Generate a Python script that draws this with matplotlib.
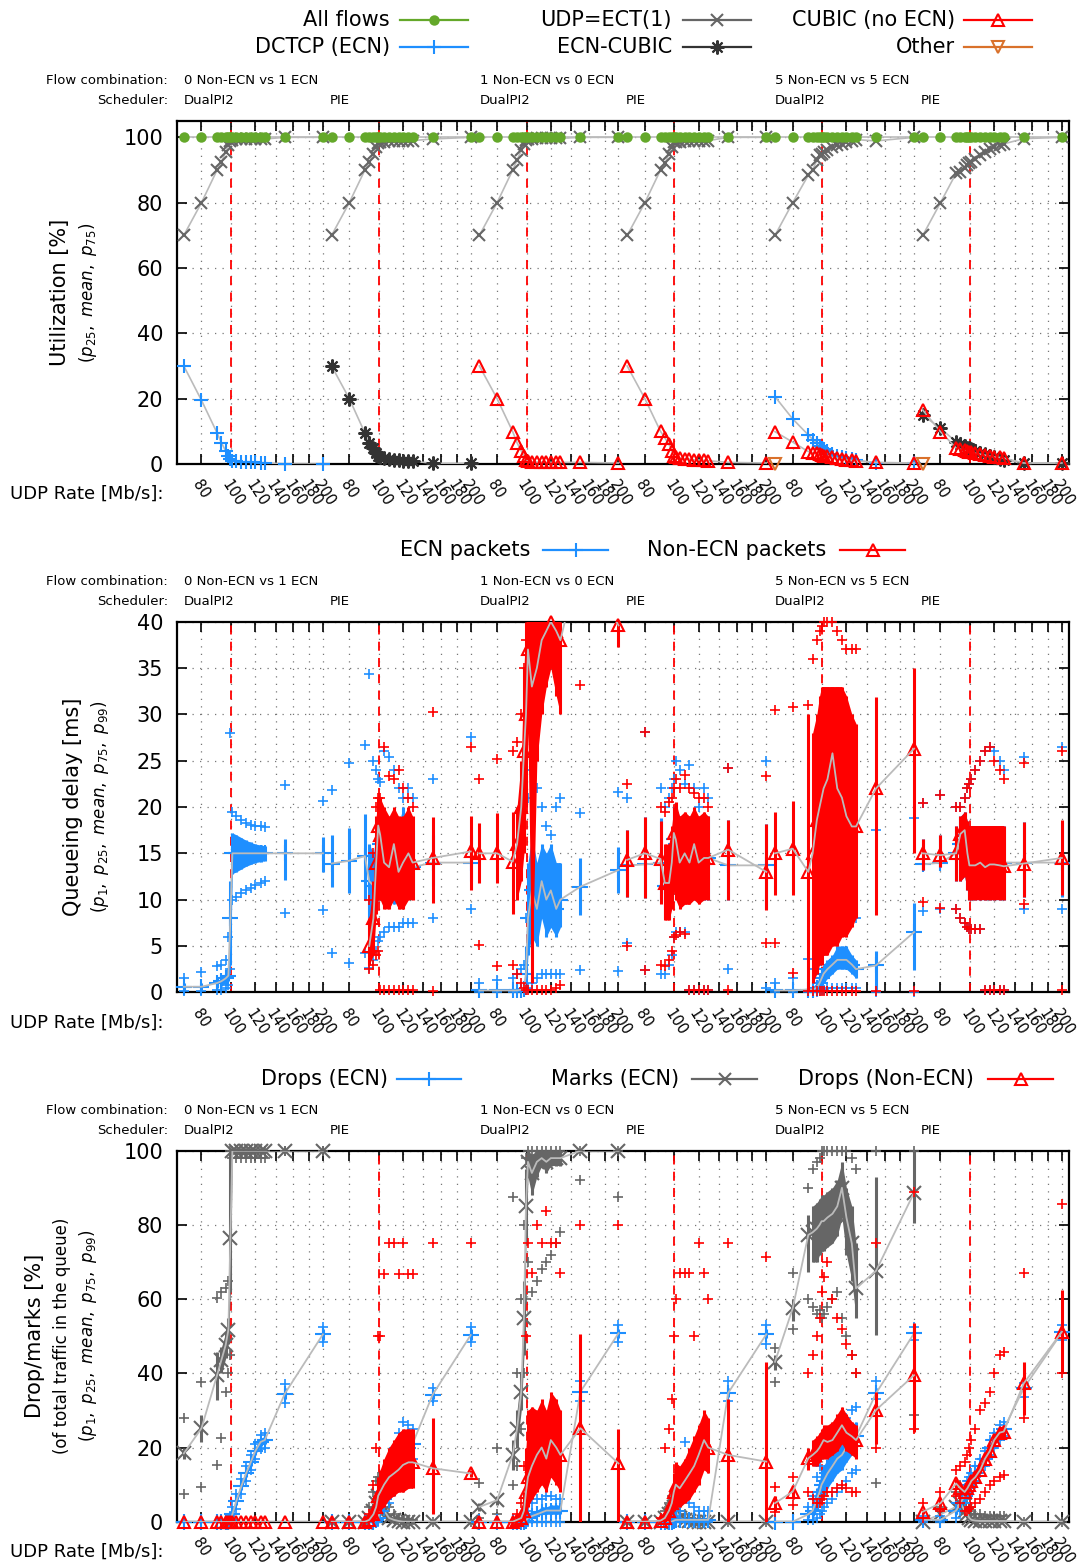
import numpy as np
import matplotlib
matplotlib.use("Agg")
import matplotlib.pyplot as plt
from matplotlib.lines import Line2D
from matplotlib.transforms import blended_transform_factory

plt.rcParams["font.family"] = ["DejaVu Sans"]

# ---------------------------------------------------------------- data
# UDP rates (Mb/s) sampled in every group
RATES = [70, 80, 90, 93, 96, 98, 99.5, 101, 104, 108, 112, 116, 120, 125, 129, 150, 200]
FLOW_COMBOS = ["0 Non-ECN vs 1 ECN", "1 Non-ECN vs 0 ECN", "5 Non-ECN vs 5 ECN"]
SCHEDULERS = ["DualPI2", "PIE"]
XTICKS = [80, 100, 120, 140, 160, 180, 200]
UTIL_YTICKS = [0, 20, 40, 60, 80, 100]
DELAY_YTICKS = [0, 5, 10, 15, 20, 25, 30, 35, 40]
DROP_YTICKS = [0, 20, 40, 60, 80, 100]

# utilization [%] (one row per group: 0v1 DualPI2, 0v1 PIE, 1v0 DualPI2, 1v0 PIE, 5v5 DualPI2, 5v5 PIE)
util_all = [100, 100, 100, 100, 100, 100, 100, 100, 100, 100, 100, 100, 100, 100, 100, 100, 100]
util_udp = [
    [70, 80, 90, 92.5, 95.5, 97.5, 99, 99.3, 99.4, 99.5, 99.5, 99.5, 99.5, 99.5, 99.5, 100, 100],
    [70, 80, 90, 92.5, 95, 97, 98.3, 98.5, 98.7, 98.8, 98.9, 99, 99, 99, 99, 99.5, 100],
    [70, 80, 90, 93, 96, 98, 99.3, 99.5, 99.6, 99.7, 99.7, 99.7, 99.7, 99.7, 99.7, 100, 100],
    [70, 80, 90, 92, 95, 97, 98.5, 98.6, 98.7, 98.8, 98.9, 99, 99, 99, 99, 100, 100],
    [70, 80, 88.4, 90, 93, 94.5, 95, 95.5, 96, 97, 97.7, 98, 98.5, 99, 99.3, 98.9, 100],
    [70, 80, 89, 89.5, 90.5, 91.5, 92, 92.5, 93.5, 94.5, 95.5, 96.5, 97, 97.5, 98, 99.6, 100],
]
util_dctcp = [
    [30, 19.5, 9.5, 6.5, 4, 2.5, 1.5, 1, 0.8, 0.7, 0.6, 0.5, 0.5, 0.4, 0.4, 0, 0],
    None, None, None,
    [20.6, 13.8, 8.9, 7.5, 6.5, 5.5, 5, 4.5, 4, 3, 2.5, 2, 1.8, 1.5, 1.2, 0.3, 0.3],
    None,
]
util_ecn_cubic = [
    None,
    [30, 20, 9.5, 6.5, 5, 3.5, 2.5, 2, 1.8, 1.5, 1.3, 1.2, 1, 1, 0.9, 0.2, 0.2],
    None, None, None,
    [15, 10.9, 6.8, 6, 5.5, 5, 4.8, 4.5, 4, 3.5, 3, 2.5, 2, 1.5, 1.2, 0.3, 0.3],
]
util_cubic = [
    None, None,
    [30, 20, 9.9, 6.5, 4, 2.5, 1.2, 0.8, 0.7, 0.6, 0.6, 0.5, 0.5, 0.5, 0.5, 0.5, 0.3],
    [30, 20, 10, 8, 6, 4, 2.5, 2, 1.8, 1.6, 1.5, 1.3, 1.2, 1.1, 1, 0.5, 0.3],
    [9.9, 6.7, 3.8, 3.5, 3.3, 3, 2.8, 2.6, 2.3, 2, 1.8, 1.5, 1.3, 1.1, 1, 0.5, 0.3],
    [16.5, 9.9, 4.9, 4.5, 4.2, 4, 3.8, 3.6, 3.3, 3, 2.7, 2.4, 2.2, 2, 1.8, 0.3, 0.3],
]
util_other = [
    None, None, None, None,
    [0, None, None, None, None, None, None, None, None, None, None, None, None, None, None, None, None],
    [0, None, None, None, None, None, None, None, None, None, None, None, None, None, None, None, None],
]

# queueing delay [ms]
delay_ecn_mean = [
    [0.6, 0.6, 1.0, 1.2, 1.5, 1.8, 8, 15, 15, 15, 15, 15, 15, 15, 15, 15, 15],
    [13.9, 14.2, 14.7, 12, 11.5, 12.5, 14, 16, 15, 13.5, 12.5, 13.5, 17, 14, 13.5, 14, 14],
    [0.2, 0.2, 0.2, 0.2, 0.3, 0.4, 2, 8, 11, 9, 12, 10, 11, 9, 10, 11.4, 13.2],
    [13.7, 13.8, 14, 11.5, 11.5, 13.8, 16.5, 16, 14, 14.5, 14, 15.5, 14, 14.5, 14.5, 13.7, 13.7],
    [0.2, 0.2, 0.3, 0.3, 0.5, 1, 1.5, 2, 2.5, 3, 3.5, 3.5, 3.5, 3, 2.5, 2.9, 6.5],
    [13.8, 14, 15, 16, 17, 15, 14, 14, 14, 14, 17, 14, 14, 14, 14, 14, 14],
]
delay_ecn_p25 = [
    [0.3, 0.3, 0.5, 0.7, 1, 1.2, 3, 12.8, 13, 13.3, 13.6, 13.8, 14, 14.1, 14.2, 12.1, 13],
    [11.4, 10.7, 10, 8, 8, 9, 10, 11, 11, 10, 9.5, 10, 12, 11, 11, 11.5, 12],
    [0.1, 0.1, 0.1, 0.1, 0.1, 0.2, 1, 4, 6, 5, 8, 6, 7, 6, 7, 8.3, 10.7],
    [10.3, 10.2, 10, 8, 8, 10, 12, 11, 10, 10, 10, 10, 10, 10, 10, 10, 9],
    [0.1, 0.1, 0.1, 0.1, 0.2, 0.5, 0.8, 1, 1.5, 2, 2.5, 2.5, 2.5, 2, 1.5, 0.3, 2.4],
    [13.2, 13.5, 12, 12, 12.5, 11, 10, 10, 10, 10, 10, 10, 10, 10, 10, 10.3, 10.3],
]
delay_ecn_p75 = [
    [1, 1, 1.5, 1.8, 2, 2.5, 12, 17.2, 17, 16.7, 16.4, 16.2, 16, 15.9, 15.8, 16.6, 16.8],
    [17, 17.7, 19.2, 16, 15, 17, 19, 20, 19, 18, 17, 18, 20, 18, 17.5, 17, 17],
    [0.3, 0.3, 0.3, 0.3, 0.5, 0.6, 5, 14, 17, 14, 16, 15, 16, 14, 14, 14.5, 15.7],
    [17.5, 18.9, 18.8, 15, 15, 17, 20, 20, 19, 19, 19, 19, 19, 19, 19, 18.6, 18.2],
    [0.3, 0.3, 0.5, 0.6, 1, 1.8, 2.5, 3, 3.5, 4, 5, 5, 5, 4, 3.5, 4.5, 9.6],
    [16.6, 17, 18, 19, 19.5, 18.5, 18, 18, 18, 18, 18, 18, 18, 18, 18, 18.4, 18.4],
]
delay_ecn_p1 = [
    [0.1, 0.1, 0.2, 0.3, 0.5, 0.8, 2.5, 10, 10.3, 10.7, 11, 11.3, 11.6, 11.8, 12, 8.6, 8.9],
    [4.2, 3.2, 4.2, 2.6, 3.5, 4.5, 5.5, 6, 6.5, 7, 7, 7, 7.5, 7.5, 7.5, 8, 9],
    [0, 0, 0, 0, 0.1, 0.1, 0.2, 0.5, 1, 1.5, 2, 2, 2, 2, 2, 2.4, 2.3],
    [5.3, 2.4, 2, 2, 3, 4, 6, 6.5, 6.5, 6.5, 0.3, 0.3, 0.3, 0.3, 0.3, 2.5, 0.5],
    [0, 0, 0, 0, 0, 0.1, 0.2, 0.3, 0.5, 0.5, 0.5, 0.5, 0.5, 0.5, 0.5, 0, 0],
    [8.8, 9, 9, 8, 7.5, 7, 6.8, 6.8, 6.8, 6.8, 0.3, 0.3, 0.3, 0.3, 0.3, 9, 9],
]
delay_ecn_p99 = [
    [1.5, 2.2, 2.8, 3, 3.5, 6, 28, 19.5, 19, 18.6, 18.3, 18.1, 18, 17.9, 17.8, 22.4, 20.6],
    [21.8, 24.7, 26.7, 34.4, 25, 24, 23, 22.7, 26, 25.4, 24, 22, 21, 22, 21, 23, 27.6],
    [1, 1.3, 1.5, 2, 2.5, 3, 8, 21, 24, 22, 20, 18, 17, 20, 21, 19.3, 21.6],
    [21, 28.1, 22, 20, 21, 22, 23, 25, 24, 22.5, 24.5, 22, 20, 22, 21, 24.2, 25],
    [1, 1.5, 3.6, 2.5, 3, 4, 5, 16, 14, 10, 12, 12, 9, 9, 8, 17.5, 18.8],
    [20.4, 21.3, 20, 20, 21, 22, 22.5, 23, 24, 25, 26, 26.5, 26, 25, 24, 25.4, 26.5],
]
delay_nonecn_mean = [
    None,
    [None, None, None, 5, 8, 14, 18, 17, 14, 13.5, 16, 13, 14, 15, 14, 14.5, 15.2],
    [15, 15, 14.1, 16, 20, 26, 30, 37, 33, 35, 38, 39, 40, 39, 38, 47, 39.6],
    [14.3, 15, 14.4, 11.8, 11.8, 14, 17.2, 16.5, 14, 15, 14, 16, 14, 14.5, 14.5, 15.4, 13],
    [15, 15.5, 13, 15, 18.6, 20, 21, 22, 23, 25.8, 22, 21, 19, 17.9, 17.9, 22, 26.3],
    [15, 14.8, 15, 17.1, 17.5, 15, 13.7, 13.7, 13.7, 14, 13.5, 13.8, 13.8, 13.7, 13.6, 13.9, 14.5],
]
delay_nonecn_p25 = [
    None,
    [None, None, None, 3, 4, 8.5, 10, 10, 9, 9, 10, 9, 9, 10, 10, 9.6, 11],
    [11.8, 11.8, 8.5, 10, 12, 15, 20, 28, 1, 25, 30, 33, 35, 32, 30, 44, 37.3],
    [10.3, 10.2, 9.5, 7.8, 7.8, 9, 11, 10, 9, 9.5, 9.5, 10, 9.5, 10, 10, 10, 8.9],
    [10.5, 10.5, 0.2, 1, 2, 3, 3, 4, 4, 5, 5, 6, 6, 7, 8, 8.3, 15],
    [13.2, 13.5, 12, 12, 12.5, 11, 10, 10, 10, 10, 10, 10, 10, 10, 10, 10.3, 10.5],
]
delay_nonecn_p75 = [
    None,
    [None, None, None, 8, 12, 19, 21, 21, 20, 19, 20, 19, 19, 20, 19, 18.9, 19],
    [18.3, 19.4, 19.5, 20, 25, 35, 40, 42, 42, 42, 42, 42, 42, 42, 40, 50, 42],
    [17.5, 18.9, 18.5, 16, 16, 18, 20, 20.5, 19, 19.5, 19, 20, 19, 19.5, 19, 18.6, 18.2],
    [19.5, 20.7, 30, 28, 30, 32, 33, 33, 33, 33, 33, 33, 32, 30, 29, 31.9, 35],
    [16.6, 17, 18, 19, 19.5, 18.5, 18, 18, 18, 18, 18, 18, 18, 18, 18, 18.4, 18.6],
]
delay_nonecn_p1 = [
    None,
    [None, None, None, 2.5, 3, 4, 4.5, 0.3, 0.3, 0.3, 0.3, 0.3, 0.3, 0.3, 0.3, 0.1, None],
    [5.1, 2.8, 3, 2, 1, 0.5, 0.3, 0.2, 0.2, 0.2, 0.2, 0.3, 0.3, 0.5, 0.8, 33.2, None],
    [5, 2.4, 3, 2.8, 3.5, 4.5, 6, 6.2, 6.5, 6.3, 0.3, 0.3, 0.3, 0.3, 0.3, 0.2, 5.3],
    [5.3, 2.1, 0.1, 0.1, 0.1, 0.1, 0.1, 0.1, 0.1, 0.1, 0.1, 0.1, 0.1, 0.1, 0.1, 0.1, 0.1],
    [9.8, 9.1, 9, 8, 7.5, 7, 6.8, 6.8, 6.8, 6.8, 0.3, 0.3, 0.3, 0.3, 0.3, 9.5, 0.3],
]
delay_nonecn_p99 = [
    None,
    [None, None, None, 10, 15, 20, 21, 21, 26.5, 23.3, 23, 24, 22, 21, 20, 30.3, 26.5],
    [23, 25.2, 26, 27, 30, 35, 38, 41, 41, 41, 41, 41, 41, 41, 41, None, None],
    [22.5, 28.1, 20, 19.5, 20.5, 21, 22, 23, 22, 23.5, 22, 21.5, 21, 21, 20, 24.2, 23.3],
    [30.5, 30.8, 31, 36, 38, 39, 39.5, 40, 40, 40, 39, 38, 37, 37, 37, None, None],
    [20.4, 21.3, 20, 20, 21, 22, 22.5, 23, 24, 25, 26, 26.5, 25, 24, 23, 24.7, 26],
]

# drops / marks [% of total traffic in the queue]
marks_mean = [
    [18.4, 25.2, 39.5, 43.6, 47.6, 51.7, 76.5, 100, 100, 100, 100, 100, 100, 100, 100, 100, 100],
    [0, 0, 0, 1, 3, 5, 7, 5, 3, 1, 0.5, 0.2, 0, 0, 0, 0, 0],
    [4, 5.8, 18, 25, 35, 55, 85, 97, 94, 97, 98, 97, 98, 98, 98, 100, 100],
    [0, 0, 0, 1, 2, 3, 4, 3, 1, 0.5, 0.2, 0, 0, 0, 0, 0, 0],
    [43.1, 57.5, 77.3, 78, 79, 80, 81, 81, 82, 83, 85, 90, 82, 75, 62.9, 67.6, 88.7],
    [0, 2, 4, 5, 3, 2, 1, 0.5, 0.3, 0.2, 0.2, 0.2, 0.2, 0.2, 0.2, 0, 0],
]
marks_p25 = [
    [17, 21.6, 32.8, 40, 44, 48, 62, 99.5, 99.5, 99.5, 99.5, 99.5, 99.5, 99.5, 99.5, 100, 100],
    [0, 0, 0, 0, 1, 2, 3, 2, 1, 0, 0, 0, 0, 0, 0, 0, 0],
    [3, 4.5, 14, 20, 30, 45, 75, 93, 88, 93, 96, 94, 96, 96, 96, 100, 100],
    [0, 0, 0, 0, 1, 1.5, 2, 1.5, 0.5, 0, 0, 0, 0, 0, 0, 0, 0],
    [41, 54, 67.4, 70, 70, 72, 73, 73, 74, 75, 77, 82, 72, 65, 55, 50.3, 80.4],
    [0, 1, 2, 3, 1.5, 1, 0.5, 0.2, 0, 0, 0, 0, 0, 0, 0, 0, 0],
]
marks_p75 = [
    [20, 28.8, 45.8, 47, 51, 55, 99, 100, 100, 100, 100, 100, 100, 100, 100, 100, 100],
    [0, 0, 0, 2, 5, 8, 11, 8, 5, 2, 1, 0.5, 0, 0, 0, 0, 0],
    [5, 7, 22, 30, 40, 65, 95, 100, 99, 100, 100, 100, 100, 100, 100, 100, 100],
    [0, 0, 0, 2, 3, 5, 6, 5, 2, 1, 0.5, 0, 0, 0, 0, 0, 0],
    [45, 60, 82.7, 85, 86, 87, 88, 88, 89, 90, 92, 97, 90, 85, 75, 93, 100],
    [0, 3, 6, 7, 5, 3, 2, 1, 0.5, 0.5, 0.5, 0.5, 0.5, 0.5, 0.5, 0, 0],
]
marks_p1 = [
    [7.4, 9.4, 15.3, 22.5, 35, 40, 45, 98, 98, 98, 98, 98, 98, 98, 98, 100, 100],
    None,
    [1, 2, 10, 15, 25, 40, 60, 70, 62, 65, 68, 70, 72, 75, 78, 92, 87.6],
    None,
    [37.7, 52, 60, 58, 56, 57, 55, 56, 58, 60, 62, 55, 50, 45, 40, 10.4, 28.8],
    None,
]
marks_p99 = [
    [28, 37.7, 60.3, 62, 63, 65, 100, 100, 100, 100, 100, 100, 100, 100, 100, 100, 100],
    [0, 0, 0, 4, 8, 11, 12, 10, 7, 4, 2, 1, 0.5, 0.5, 0.5, 0, 0],
    [10.4, 19.9, 87.6, 40, 60, 80, 98, 100, 100, 100, 100, 100, 100, 100, 100, 100, 100],
    [0, 0, 0, 3, 5, 7, 8, 6, 3, 2, 1, 0.5, 0.5, 0.5, 0.5, 0, 0],
    [46.9, 67, 90, 95, 97, 98, 100, 100, 100, 100, 100, 100, 100, 98, 95, 100, 100],
    [0, 4, 8, 10, 8, 6, 4, 3, 2, 2, 1.5, 1.5, 1.5, 1.5, 1.5, 0, 0],
]
drops_ecn_mean = [
    [0, 0, 0, 0, 0, 0, 0.5, 2, 5.5, 9.5, 13, 16, 19, 21.5, 22, 34.5, 50.5],
    [0, 0, 0, 0, 0, 0.5, 1, 3, 6, 9, 12, 15, 18, 20, 21, 34.2, 50.3],
    [0, 0, 0, 0, 0, 0, 0.3, 1, 1.5, 2, 2.5, 3, 3, 3, 3, 35, 50.8],
    [0, 0, 0, 0, 0, 0, 0.3, 0.5, 0.5, 0.5, 0.5, 0.5, 0.5, 0.5, 0.5, 34.7, 50.5],
    [0, 0, 2, 3, 6, 8, 10, 11, 13, 15, 17, 18, 20, 22, 23, 34.6, 50.8],
    [0.5, 0.5, 3, 5, 7, 9, 10, 11, 13, 15, 17, 20, 22, 24, 25, 36, 51],
]
drops_ecn_p25 = [
    [0, 0, 0, 0, 0, 0, 0.2, 1, 4.5, 8.5, 12, 15, 18, 20.5, 21, 33, 49],
    [0, 0, 0, 0, 0, 0, 0.5, 2, 4, 7, 10, 13, 16, 18, 19, 33, 49],
    [0, 0, 0, 0, 0, 0, 0, 0.5, 1, 1.5, 2, 2, 2, 2, 2, 33.5, 49.5],
    [0, 0, 0, 0, 0, 0, 0, 0, 0, 0, 0, 0, 0, 0, 0, 33.5, 49.5],
    [0, 0, 1, 1.5, 3, 5, 6, 7, 9, 11, 13, 14, 16, 18, 19, 33.5, 49.5],
    [0, 0, 2, 4, 6, 8, 9, 10, 12, 14, 16, 19, 21, 23, 24, 35, 50],
]
drops_ecn_p75 = [
    [0, 0, 0, 0, 0, 0, 1, 3, 6.5, 10.5, 14, 17, 20, 22.5, 23, 36, 52],
    [0, 0, 0, 0, 0, 1, 2, 4, 8, 11, 14, 17, 20, 22, 23, 35.5, 52],
    [0, 0, 0, 0, 0, 0, 0.5, 2, 3, 3, 4, 4, 4.5, 4.5, 4.5, 36.5, 52],
    [0, 0, 0, 0, 0, 0, 0.5, 1, 1, 1, 1, 1, 1, 1, 1, 36, 52],
    [0, 0, 3, 5, 9, 11, 14, 15, 17, 19, 21, 22, 24, 26, 27, 36, 52],
    [1, 1, 4, 6, 8, 10, 11, 12, 14, 16, 18, 21, 23, 25, 26, 37, 52],
]
drops_ecn_p1 = [
    [0, 0, 0, 0, 0, 0, 0, 0.5, 3.5, 7.5, 11, 14, 17, 19.5, 20, 32, 48.5],
    [0, 0, 0, 0, 0, 0, 0, 1, 3, 5, 8, 11, 14, 16, 17, 32.5, 48.5],
    [0, 0, 0, 0, 0, 0, 0, 0, 0, 0, 0, 0, 0, 0, 0, 32.5, 48.5],
    [0, 0, 0, 0, 0, 0, 0, 0, 0, 0, 0, 0, 0, 0, 0, 32.5, 48],
    [0, 0, 0.5, 0.5, 1, 2, 3, 4, 5, 6, 8, 9, 11, 13, 14, 33, 49],
    [0, 0, 1, 3, 5, 7, 8, 9, 11, 13, 15, 18, 20, 22, 23, 33.5, 49],
]
drops_ecn_p99 = [
    [0, 0, 0, 0, 0, 0, 1.5, 4, 7.5, 11.5, 15, 18, 21, 23.5, 24, 37, 52.5],
    [0, 0, 0, 0, 0, 2, 4, 8, 12, 16, 20, 24, 27, 26, 25, 36, 52.5],
    [0, 0, 0, 0, 0.5, 1, 2, 3, 5, 6, 6, 7, 7, 6, 6, 38, 53],
    [0, 0, 0, 0, 0, 0.5, 1, 1.5, 3, 21.6, 5, 4, 3, 3, 3, 38, 53],
    [0, 0, 4, 7, 12, 15, 18, 20, 22, 24, 26, 27, 28, 30, 31, 38, 52.5],
    [1.5, 1.5, 5, 7, 9, 11, 12, 13, 15, 17, 19, 22, 24, 26, 27, 37.5, 53],
]
drops_nonecn_mean = [
    [0, 0, 0, 0, 0, 0, 0, 0, 0, 0, 0, 0, 0, 0, 0, 0, 0],
    [0, 0, 0, 0.5, 2, 4, 7, 8, 10, 12, 13, 14, 15.3, 16, 16, 14.4, 13],
    [0, 0, 0, 0.5, 1, 3, 8, 12, 15, 18, 20, 17, 22, 20, 18, 25.2, 15.7],
    [0, 0, 0.3, 1, 3, 5, 8, 10, 9, 11, 13, 15, 18, 22, 20, 18, 16.2],
    [5, 8.1, 17.1, 18, 19, 20, 21, 22, 21.5, 22, 24, 26, 24, 23, 22, 30.1, 39.5],
    [2.7, 5, 10.3, 9, 8, 9, 10, 11, 12, 14, 17, 19, 22, 24, 24.3, 37.3, 51.2],
]
drops_nonecn_p25 = [
    [0, 0, 0, 0, 0, 0, 0, 0, 0, 0, 0, 0, 0, 0, 0, 0, 0],
    [0, 0, 0, 0, 0, 1, 3, 3, 4, 6, 7, 8, 8, 9, 9, 2, 12],
    [0, 0, 0, 0, 0, 0.5, 2, 4, 6, 8, 10, 8, 12, 10, 8, 0, 0],
    [0, 0, 0, 0, 0.5, 2, 3, 4, 4, 5, 6, 8, 10, 14, 13, 0, 0],
    [3, 6, 14, 15, 15, 16, 17, 17, 17, 18, 19, 21, 19, 18, 17, 21, 24.3],
    [2, 4, 9, 8, 7, 8, 9, 10, 11, 13, 15.5, 17.5, 20.5, 22.5, 23, 28.8, 40.4],
]
drops_nonecn_p75 = [
    [0, 0, 0, 0, 0, 0, 0, 0, 0, 0, 0, 0, 0, 0, 0, 0, 0],
    [0, 0, 0, 1, 4, 8, 12, 14, 17, 20, 22, 24, 25, 25, 25, 28, 14],
    [0, 0, 0, 1, 3, 8, 20, 30, 31, 30, 33, 30, 35, 33, 30, 50.5, 25],
    [0, 0, 0.5, 2, 5, 8, 13, 16, 15, 17, 20, 23, 26, 30, 28, 33, 43],
    [7, 10, 20, 22, 23, 24, 25, 26, 26, 27, 29, 31, 29, 27, 26, 35, 53.6],
    [3.5, 6, 11.5, 10, 9, 10, 11, 12, 13.5, 15.5, 18.5, 20.5, 23.5, 25.5, 26, 43.1, 62.5],
]
drops_nonecn_p1 = [
    None, None, None, None,
    [2.7, 4.5, 8, 6, 5, 5, 6, 7, 8, 8, 9, 10, 9, 8, 8, 20, 25],
    [1, 3, 7, 5, 3, 3, 3.5, 4, 5, 6, 8, 10, 11, 12, 12.6, 28, 40],
]
drops_nonecn_p99 = [
    None,
    [0, 0, 0, 2, 10, 20, 50, 50, 66.7, 75, 75, 66.7, 75, 66.7, 66.7, 75, 75],
    [0, 0, 0, 2, 5, 15, 50, 75, 67, 80, 75, 83.7, 75, 75, 67, 80, 80],
    [0, 0, 1, 20, 25, 33, 50, 60, 67, 67, 67, 50, 75, 67, 60, 75, 71.4],
    [9.4, 12, 40, 45, 50, 55, 62, 66, 70, 60, 55, 52, 48, 45, 40, 75, 89],
    [5, 8, 14, 15, 16, 18, 20, 22, 25, 30, 32, 35, 40, 45, 45.8, 67, 85.5],
]

# ---------------------------------------------------------------- style
W, H = 1080, 1565
AX_LEFT, AX_RIGHT = 177, 1069
SHIFT = 1.1155                       # offset between groups (log units)
XMIN = np.log(66.5)
XMAX = 5 * SHIFT + np.log(211)
PX_PER_UNIT = (AX_RIGHT - AX_LEFT) / (XMAX - XMIN)

GREEN = "#64a82a"
BLUE = "#1e8fff"
RED = "#ff0000"
GRAY = "#666666"
DARK = "#333333"
ORANGE = "#d9712b"
LINE_GRAY = "#bbbbbb"
ASTER = (8, 2, 0)

RATE_ARR = np.array(RATES, dtype=float)
DENSE = slice(3, 15)


def xpos(g, r):
    return g * SHIFT + np.log(r)


def arr(v):
    return np.array(v, dtype=float)


def fx(px):
    return px / W


def fy(py):
    return 1 - py / H


fig = plt.figure(figsize=(W / 100, H / 100), dpi=100)


def make_axes(top, bottom, ylim, yticks, ylabels):
    ax = fig.add_axes([fx(AX_LEFT), fy(bottom), (AX_RIGHT - AX_LEFT) / W, (bottom - top) / H])
    ax.set_xlim(XMIN, XMAX)
    ax.set_ylim(*ylim)
    ax.set_xticks([xpos(g, t) for g in range(6) for t in XTICKS])
    ax.set_xticklabels([])
    ax.set_yticks(yticks)
    ax.tick_params(axis="both", direction="in", length=7, width=1.2,
                   top=True, right=True, labelsize=15)
    ax.tick_params(axis="y", pad=10)
    ax.grid(True, ls=(0, (1, 5)), color="#777777", lw=0.9)
    ax.set_axisbelow(True)
    for sp in ax.spines.values():
        sp.set_linewidth(1.6)
    for g in range(6):
        ax.axvline(xpos(g, 100), color=RED, ls=(0, (5, 4)), lw=1.3, zorder=2)

    # rotated rate labels (nudged a little left of the tick, as gnuplot does)
    trans = blended_transform_factory(ax.transData, ax.transAxes)
    nudge = 6 / PX_PER_UNIT
    for g in range(6):
        for t in XTICKS:
            ax.text(xpos(g, t) - nudge, -18 / (bottom - top), str(t), transform=trans,
                    rotation=-57, rotation_mode="anchor", ha="left", va="center",
                    fontsize=10.5)
    fig.text(fx(10), fy(bottom + 30), "UDP Rate [Mb/s]:", ha="left", va="center", fontsize=13)

    # header rows
    y1, y2 = top - 40, top - 20
    fig.text(fx(168), fy(y1), "Flow combination:", ha="right", va="center", fontsize=9.5)
    fig.text(fx(168), fy(y2), "Scheduler:", ha="right", va="center", fontsize=9.5)
    for i, name in enumerate(FLOW_COMBOS):
        fig.text(fx(AX_LEFT + 2 * i * SHIFT * PX_PER_UNIT + 7), fy(y1), name,
                 ha="left", va="center", fontsize=9.5)
    for g in range(6):
        fig.text(fx(AX_LEFT + g * SHIFT * PX_PER_UNIT + 7 - 2 * (g % 2)), fy(y2),
                 SCHEDULERS[g % 2], ha="left", va="center", fontsize=9.5)

    # y labels
    cy = (top + bottom) / 2
    for xp, text, size in ylabels:
        fig.text(fx(xp), fy(cy), text, rotation=90, ha="center", va="center", fontsize=size)
    return ax


def legend_entry(text_right, y, x0, x1, label, color, marker, mfc, ms):
    fig.text(fx(text_right), fy(y), label, ha="right", va="center", fontsize=15)
    fig.add_artist(Line2D([fx(x0), fx(x1)], [fy(y), fy(y)], color=color, lw=1.6,
                          transform=fig.transFigure))
    fig.add_artist(Line2D([fx((x0 + x1) / 2)], [fy(y)], color=color, marker=marker,
                          mfc=mfc, ms=ms, mew=1.5, transform=fig.transFigure))


def visible(y, top):
    y = y.copy()
    y[y > top] = np.nan
    return y


def draw_util(ax, data, color, marker, ms, z, mfc=None):
    for g, vals in enumerate(data):
        if vals is None:
            continue
        x = xpos(g, RATE_ARR)
        y = arr(vals)
        ax.plot(x, y, color=LINE_GRAY, lw=1.2, zorder=z)
        ax.plot(x, y, ls="none", marker=marker, ms=ms, mew=1.5, color=color,
                mfc=mfc if mfc else color, clip_on=False, zorder=z + 0.5)


def draw_stats(ax, top, mean, p25, p75, p1, p99, color, marker, ms, z):
    for g in range(6):
        if mean[g] is None:
            continue
        x = xpos(g, RATE_ARR)
        m, lo, hi = arr(mean[g]), arr(p25[g]), arr(p75[g])
        ax.fill_between(x[DENSE], lo[DENSE], hi[DENSE], color=color, lw=0, zorder=z)
        ax.vlines(x, lo, hi, color=color, lw=2.2, zorder=z)
        for pv in (p1[g], p99[g]):
            if pv is None:
                continue
            ax.plot(x, visible(arr(pv), top), ls="none", marker="+", ms=7, mew=1.2,
                    color=color, clip_on=False, zorder=z)
        ax.plot(x, m, color=LINE_GRAY, lw=1.3, zorder=z + 0.6)
        ax.plot(x, visible(m, top), ls="none", marker=marker, ms=ms, mew=1.5, color=color,
                mfc="none", clip_on=False, zorder=z + 0.5)


# ---------------------------------------------------------------- panel 1: utilization
ax1 = make_axes(121, 464, (0, 105), UTIL_YTICKS,
                [(60, "Utilization [%]", 15),
                 (88, r"$(p_{25},\ mean,\ p_{75})$", 12)])
draw_util(ax1, util_udp, GRAY, "x", 9, 3)
draw_util(ax1, [util_all] * 6, GREEN, "o", 6, 4)
draw_util(ax1, util_dctcp, BLUE, "+", 10, 5)
draw_util(ax1, util_ecn_cubic, DARK, ASTER, 10, 5)
draw_util(ax1, util_cubic, RED, "^", 9, 6, mfc="none")
draw_util(ax1, util_other, ORANGE, "v", 9, 6, mfc="none")

legend_entry(390, 20, 400, 468, "All flows", GREEN, "o", GREEN, 6)
legend_entry(672, 20, 683, 751, "UDP=ECT(1)", GRAY, "x", GRAY, 8)
legend_entry(955, 20, 964, 1032, "CUBIC (no ECN)", RED, "^", "none", 8)
legend_entry(390, 47, 400, 468, "DCTCP (ECN)", BLUE, "+", BLUE, 10)
legend_entry(672, 47, 683, 751, "ECN-CUBIC", DARK, ASTER, DARK, 10)
legend_entry(955, 47, 964, 1032, "Other", ORANGE, "v", "none", 8)

# ---------------------------------------------------------------- panel 2: queueing delay
ax2 = make_axes(621.7, 992.3, (0, 40), DELAY_YTICKS,
                [(73, "Queueing delay [ms]", 15),
                 (100, r"$(p_{1},\ p_{25},\ mean,\ p_{75},\ p_{99})$", 12)])
draw_stats(ax2, 40, delay_ecn_mean, delay_ecn_p25, delay_ecn_p75, delay_ecn_p1, delay_ecn_p99,
           BLUE, "+", 11, 3)
draw_stats(ax2, 40, delay_nonecn_mean, delay_nonecn_p25, delay_nonecn_p75, delay_nonecn_p1,
           delay_nonecn_p99, RED, "^", 9, 4)

legend_entry(530, 550, 543, 608, "ECN packets", BLUE, "+", BLUE, 10)
legend_entry(826, 550, 840, 905, "Non-ECN packets", RED, "^", "none", 8)

# ---------------------------------------------------------------- panel 3: drops / marks
ax3 = make_axes(1150.7, 1521.7, (0, 100), DROP_YTICKS,
                [(35, "Drop/marks [%]", 15),
                 (62, "(of total traffic in the queue)", 12),
                 (88, r"$(p_{1},\ p_{25},\ mean,\ p_{75},\ p_{99})$", 12)])
draw_stats(ax3, 100, marks_mean, marks_p25, marks_p75, marks_p1, marks_p99, GRAY, "x", 10, 3)
draw_stats(ax3, 100, drops_ecn_mean, drops_ecn_p25, drops_ecn_p75, drops_ecn_p1, drops_ecn_p99,
           BLUE, "+", 11, 4)
draw_stats(ax3, 100, drops_nonecn_mean, drops_nonecn_p25, drops_nonecn_p75, drops_nonecn_p1,
           drops_nonecn_p99, RED, "^", 9, 5)

legend_entry(388, 1079, 397, 461, "Drops (ECN)", BLUE, "+", BLUE, 10)
legend_entry(679, 1079, 692, 757, "Marks (ECN)", GRAY, "x", GRAY, 8)
legend_entry(974, 1079, 988, 1053, "Drops (Non-ECN)", RED, "^", "none", 8)

fig.savefig("out.png", dpi=100)
